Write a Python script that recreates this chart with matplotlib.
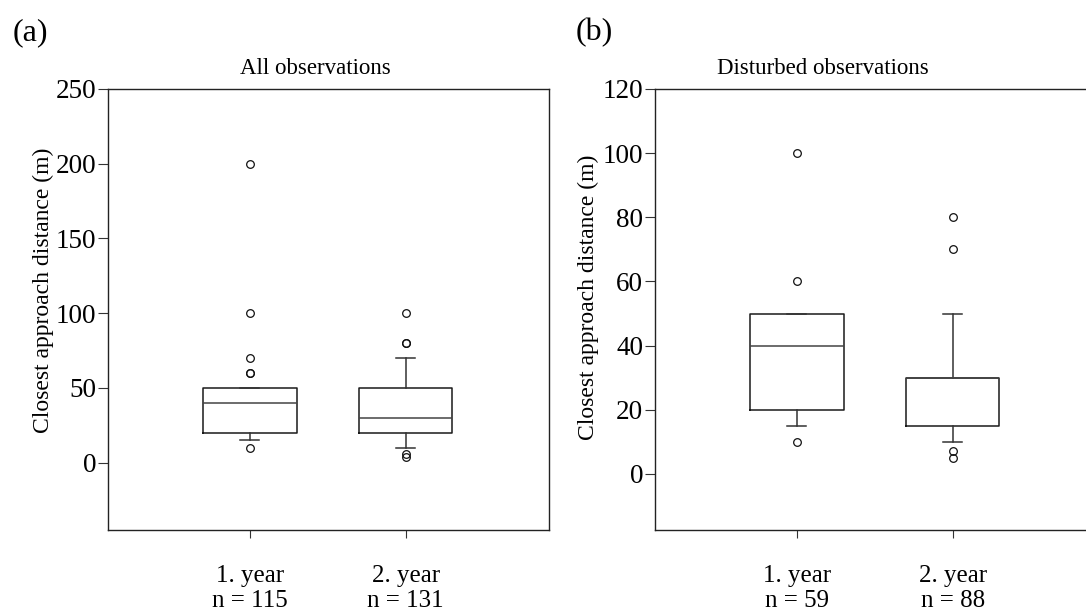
import matplotlib
matplotlib.use("Agg")
import matplotlib.pyplot as plt

plt.rcParams['font.family'] = ['Liberation Serif', 'DejaVu Serif']

# ---- data ----
groups = ["1. year", "2. year"]
n_all = [115, 131]
n_dist = [59, 88]

# panel (a) All observations
a_q1 = [20, 20]
a_med = [40, 30]
a_q3 = [50, 50]
a_wlo = [15, 10]
a_whi = [50, 70]
a_fliers = [[10, 60, 60, 70, 100, 200], [4, 6, 80, 80, 100]]

# panel (b) Disturbed observations
b_q1 = [20, 15]
b_med = [40, 30]
b_q3 = [50, 30]
b_wlo = [15, 10]
b_whi = [50, 50]
b_fliers = [[10, 60, 100], [5, 7, 70, 80]]

a_yticks = [0, 50, 100, 150, 200, 250]
b_yticks = [0, 20, 40, 60, 80, 100, 120]


def stats(q1, med, q3, wlo, whi, fl, labels):
    out = []
    for i in range(len(q1)):
        out.append(dict(q1=q1[i], med=med[i], q3=q3[i], whislo=wlo[i],
                        whishi=whi[i], fliers=fl[i], label=labels[i]))
    return out


W, H = 1086, 610
fig = plt.figure(figsize=(W / 100, H / 100), dpi=100)

ax_w = 441 / W
ax_b = (H - 530) / H
ax_h = (530 - 89) / H
axA = fig.add_axes([108 / W, ax_b, ax_w, ax_h])
axB = fig.add_axes([655 / W, ax_b, ax_w, ax_h])

edge = '#1a1a1a'
boxprops = dict(color=edge, linewidth=1.1)
medprops = dict(color='#444444', linewidth=1.1)
whiskprops = dict(color='#333333', linewidth=1.1)
capprops = dict(color='#333333', linewidth=1.1)
flierprops = dict(marker='o', markerfacecolor='none', markeredgecolor='#111111',
                  markersize=5.5, markeredgewidth=0.9, linestyle='none')

for ax, st, yl, yt, ns in [
    (axA, stats(a_q1, a_med, a_q3, a_wlo, a_whi, a_fliers, groups), (-45, 250), a_yticks, n_all),
    (axB, stats(b_q1, b_med, b_q3, b_wlo, b_whi, b_fliers, groups), (-17.5, 120), b_yticks, n_dist),
]:
    ax.bxp(st, positions=[1, 2], widths=0.6, capwidths=0.12,
           boxprops=boxprops, medianprops=medprops, whiskerprops=whiskprops,
           capprops=capprops, flierprops=flierprops, showfliers=True)
    ax.set_xlim(0.09, 2.92)
    ax.set_ylim(*yl)
    ax.set_yticks(yt)
    ax.set_yticklabels([str(v) for v in yt])
    ax.set_xticks([1, 2])
    ax.set_xticklabels([f"{g}\nn = {n}" for g, n in zip(groups, ns)],
                       linespacing=1.15)
    ax.tick_params(axis='y', direction='out', length=7.5, width=0.8,
                   labelsize=19.5, pad=1, color='#333333')
    ax.tick_params(axis='x', direction='out', length=6, width=0.8,
                   labelsize=18, pad=19.5, color='#333333')
    for s in ax.spines.values():
        s.set_linewidth(1.0)
        s.set_color('#222222')

# titles, panel letters, y labels
fig.text(315 / W, 1 - 68 / H, "All observations", ha='center', va='center', fontsize=16.5)
fig.text(823 / W, 1 - 68 / H, "Disturbed observations", ha='center', va='center', fontsize=16.5)
fig.text(30 / W, 1 - 33 / H, "(a)", ha='center', va='center', fontsize=23)
fig.text(594 / W, 1 - 33 / H, "(b)", ha='center', va='center', fontsize=23)
fig.text(43 / W, 1 - 290 / H, "Closest approach distance (m)", rotation=90,
         ha='center', va='center', fontsize=17)
fig.text(588 / W, 1 - 297 / H, "Closest approach distance (m)", rotation=90,
         ha='center', va='center', fontsize=17)

fig.savefig("out.png", dpi=100)
